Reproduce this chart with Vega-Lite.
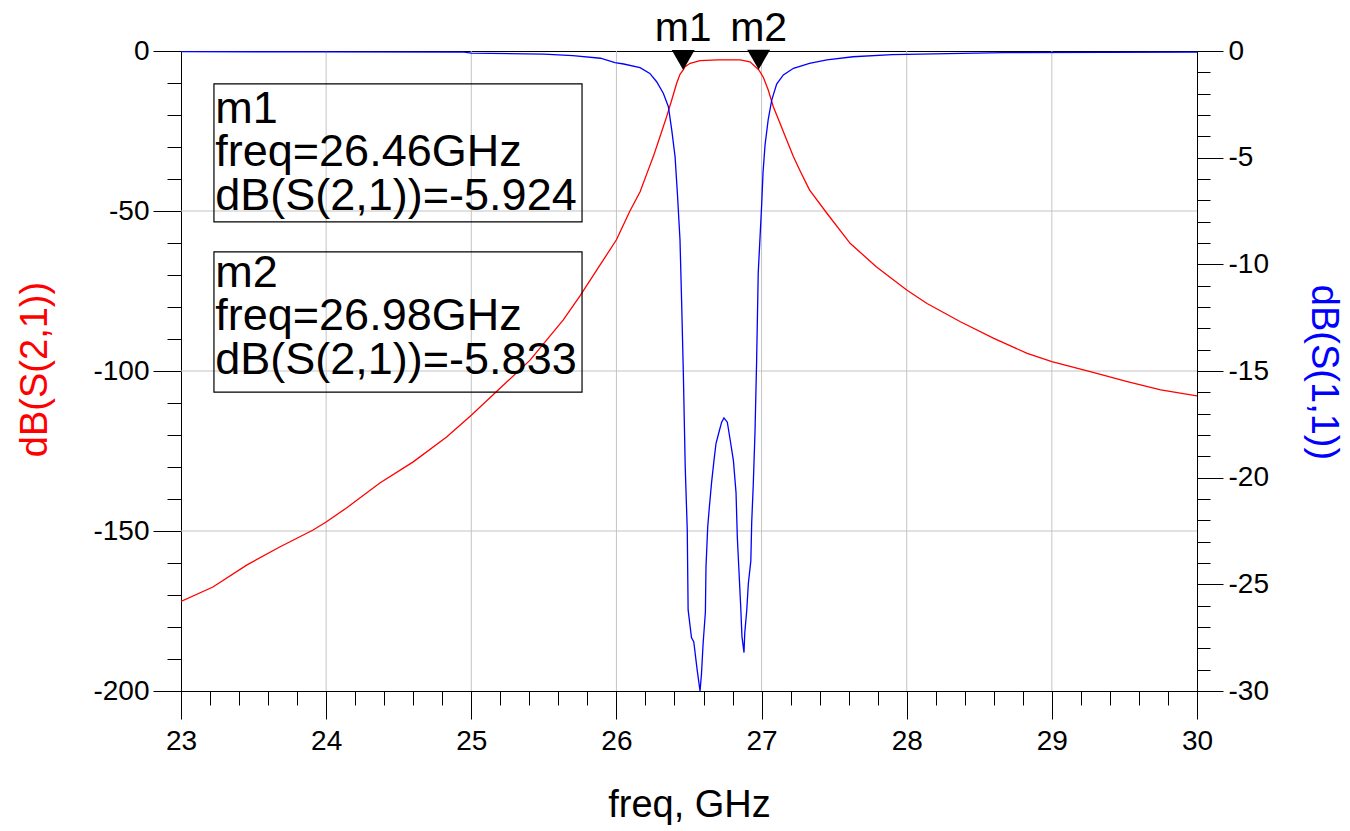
{
  "$schema": "https://vega.github.io/schema/vega-lite/v6.json",
  "width": 1016,
  "height": 640,
  "autosize": {"type": "none"},
  "padding": {"left": 181, "top": 51, "right": 153, "bottom": 140},
  "background": "white",
  "config": {
    "font": "Liberation Sans",
    "view": {"stroke": "black", "strokeWidth": 1},
    "text": {"font": "Liberation Sans"},
    "axis": {
      "domainColor": "black",
      "domainWidth": 1,
      "tickColor": "black",
      "tickWidth": 1,
      "labelFont": "Liberation Sans",
      "labelFontSize": 28,
      "labelColor": "black",
      "labelOverlap": false,
      "labelFlush": false,
      "titleFont": "Liberation Sans",
      "titleFontSize": 38,
      "titleFontWeight": "normal",
      "grid": false
    }
  },
  "datasets": {
    "s21": [
      {"freq": 23.0, "db": -172.0}, {"freq": 23.22, "db": -167.5}, {"freq": 23.455, "db": -160.6},
      {"freq": 23.68, "db": -155.0}, {"freq": 23.91, "db": -149.7}, {"freq": 24.0, "db": -147.2},
      {"freq": 24.14, "db": -142.8}, {"freq": 24.37, "db": -135.0}, {"freq": 24.6, "db": -128.4},
      {"freq": 24.83, "db": -120.6}, {"freq": 25.0, "db": -113.8}, {"freq": 25.2, "db": -105.3},
      {"freq": 25.405, "db": -96.6}, {"freq": 25.52, "db": -90.3}, {"freq": 25.634, "db": -84.0},
      {"freq": 25.749, "db": -76.5}, {"freq": 25.864, "db": -68.5}, {"freq": 26.0, "db": -59.0},
      {"freq": 26.093, "db": -50.0}, {"freq": 26.163, "db": -44.0}, {"freq": 26.209, "db": -38.4},
      {"freq": 26.254, "db": -33.0}, {"freq": 26.3, "db": -26.8}, {"freq": 26.346, "db": -20.5},
      {"freq": 26.381, "db": -15.3}, {"freq": 26.415, "db": -10.1}, {"freq": 26.438, "db": -7.3},
      {"freq": 26.46, "db": -5.924}, {"freq": 26.473, "db": -4.9}, {"freq": 26.508, "db": -3.85},
      {"freq": 26.576, "db": -3.0}, {"freq": 26.7, "db": -2.8}, {"freq": 26.852, "db": -2.8},
      {"freq": 26.92, "db": -3.4}, {"freq": 26.98, "db": -5.833}, {"freq": 27.012, "db": -8.2},
      {"freq": 27.046, "db": -12.2}, {"freq": 27.081, "db": -17.4}, {"freq": 27.127, "db": -22.6},
      {"freq": 27.173, "db": -27.8}, {"freq": 27.219, "db": -33.0}, {"freq": 27.265, "db": -37.4},
      {"freq": 27.33, "db": -43.4}, {"freq": 27.45, "db": -50.7}, {"freq": 27.61, "db": -60.1},
      {"freq": 27.79, "db": -67.4}, {"freq": 28.0, "db": -74.7}, {"freq": 28.14, "db": -78.9},
      {"freq": 28.37, "db": -84.6}, {"freq": 28.6, "db": -89.8}, {"freq": 28.83, "db": -94.5},
      {"freq": 29.0, "db": -97.1}, {"freq": 29.29, "db": -100.5}, {"freq": 29.52, "db": -103.3},
      {"freq": 29.75, "db": -105.9}, {"freq": 30.0, "db": -107.8}
    ],
    "s11": [
      {"freq": 23.0, "db": -0.03}, {"freq": 24.0, "db": -0.04}, {"freq": 24.95, "db": -0.05},
      {"freq": 25.0, "db": -0.1}, {"freq": 25.5, "db": -0.15}, {"freq": 25.7, "db": -0.22},
      {"freq": 25.89, "db": -0.34}, {"freq": 25.99, "db": -0.55}, {"freq": 26.05, "db": -0.61},
      {"freq": 26.163, "db": -0.78}, {"freq": 26.23, "db": -1.05}, {"freq": 26.277, "db": -1.44},
      {"freq": 26.323, "db": -1.98}, {"freq": 26.358, "db": -2.61}, {"freq": 26.381, "db": -3.7},
      {"freq": 26.404, "db": -4.95}, {"freq": 26.42, "db": -6.67}, {"freq": 26.438, "db": -8.86},
      {"freq": 26.45, "db": -11.98}, {"freq": 26.461, "db": -15.1}, {"freq": 26.474, "db": -19.5},
      {"freq": 26.488, "db": -22.45}, {"freq": 26.494, "db": -26.2}, {"freq": 26.517, "db": -27.5},
      {"freq": 26.533, "db": -27.7}, {"freq": 26.556, "db": -29.0}, {"freq": 26.576, "db": -30.0},
      {"freq": 26.586, "db": -29.2}, {"freq": 26.597, "db": -27.8}, {"freq": 26.613, "db": -26.3},
      {"freq": 26.617, "db": -24.2}, {"freq": 26.629, "db": -22.3}, {"freq": 26.64, "db": -21.4},
      {"freq": 26.656, "db": -20.2}, {"freq": 26.672, "db": -19.2}, {"freq": 26.686, "db": -18.4},
      {"freq": 26.709, "db": -17.8}, {"freq": 26.725, "db": -17.4}, {"freq": 26.741, "db": -17.2},
      {"freq": 26.764, "db": -17.4}, {"freq": 26.783, "db": -18.2}, {"freq": 26.806, "db": -19.2},
      {"freq": 26.824, "db": -20.7}, {"freq": 26.833, "db": -22.8}, {"freq": 26.843, "db": -24.2},
      {"freq": 26.856, "db": -26.0}, {"freq": 26.865, "db": -27.45}, {"freq": 26.879, "db": -28.2},
      {"freq": 26.884, "db": -27.3}, {"freq": 26.898, "db": -26.2}, {"freq": 26.909, "db": -24.95},
      {"freq": 26.926, "db": -23.9}, {"freq": 26.932, "db": -22.1}, {"freq": 26.943, "db": -20.3},
      {"freq": 26.955, "db": -17.8}, {"freq": 26.966, "db": -14.5}, {"freq": 26.977, "db": -10.4},
      {"freq": 27.0, "db": -7.3}, {"freq": 27.01, "db": -5.7}, {"freq": 27.024, "db": -4.4},
      {"freq": 27.046, "db": -3.2}, {"freq": 27.07, "db": -2.3}, {"freq": 27.104, "db": -1.55},
      {"freq": 27.15, "db": -1.12}, {"freq": 27.22, "db": -0.81}, {"freq": 27.33, "db": -0.58},
      {"freq": 27.45, "db": -0.42}, {"freq": 27.63, "db": -0.27}, {"freq": 27.9, "db": -0.17},
      {"freq": 28.67, "db": -0.08}, {"freq": 30.0, "db": -0.05}
    ],
    "gridx": [{"g": 24}, {"g": 25}, {"g": 26}, {"g": 27}, {"g": 28}, {"g": 29}],
    "gridy": [{"g": -50}, {"g": -100}, {"g": -150}],
    "boxes": [
      {"x1": 23.227, "x2": 25.763, "y1": -10.3, "y2": -53.4},
      {"x1": 23.227, "x2": 25.763, "y1": -62.8, "y2": -106.6}
    ],
    "boxtext": [
      {"freq": 23.236, "db": -22.5, "t": "m1"},
      {"freq": 23.236, "db": -35.8, "t": "freq=26.46GHz"},
      {"freq": 23.236, "db": -49.7, "t": "dB(S(2,1))=-5.924"},
      {"freq": 23.236, "db": -73.9, "t": "m2"},
      {"freq": 23.236, "db": -87.3, "t": "freq=26.98GHz"},
      {"freq": 23.236, "db": -100.8, "t": "dB(S(2,1))=-5.833"}
    ],
    "markers": [
      {"freq": 26.46, "db": -5.924, "t": "m1"},
      {"freq": 26.98, "db": -5.833, "t": "m2"}
    ]
  },
  "layer": [
    {
      "data": {"name": "gridx"},
      "mark": {"type": "rule", "color": "#c4c4c4", "strokeWidth": 1},
      "encoding": {
        "x": {
          "field": "g", "type": "quantitative",
          "scale": {"domain": [23, 30], "nice": false, "zero": false},
          "axis": {
            "orient": "bottom",
            "values": [23, 24, 25, 26, 27, 28, 29, 30],
            "labelExpr": "'' + datum.value",
            "tickSize": 28,
            "labelPadding": 8,
            "labelFlush": false,
            "labelOverlap": false,
            "title": "freq, GHz",
            "titleY": 114,
            "titleBaseline": "middle",
            "titleColor": "black"
          }
        }
      }
    },
    {
      "data": {"name": "gridy"},
      "mark": {"type": "rule", "color": "#c4c4c4", "strokeWidth": 1},
      "encoding": {
        "y": {"field": "g", "type": "quantitative", "axis": null, "scale": {"domain": [-200, 0], "nice": false, "zero": false}}
      }
    },
    {
      "data": {"name": "s21"},
      "mark": {"type": "line", "color": "#ff0000", "strokeWidth": 1.3, "clip": true},
      "encoding": {
        "x": {"field": "freq", "type": "quantitative", "axis": null},
        "y": {
          "field": "db", "type": "quantitative",
          "scale": {"domain": [-200, 0], "nice": false, "zero": false},
          "axis": {
            "orient": "left",
            "values": [0, -10, -20, -30, -40, -50, -60, -70, -80, -90, -100, -110, -120, -130, -140, -150, -160, -170, -180, -190, -200],
            "labelExpr": "datum.value % 50 === 0 ? '' + datum.value : ''",
            "tickSize": {"condition": {"test": "datum.value % 50 === 0", "value": 28}, "value": 14},
            "labelPadding": 4,
            "labelOverlap": false,
            "labelFlush": false,
            "title": "dB(S(2,1))",
            "titleColor": "#ff0000",
            "titleAngle": -90,
            "titleX": -146,
            "titleY": 318,
            "titleBaseline": "middle",
            "titleAlign": "center"
          }
        }
      }
    },
    {
      "data": {"name": "s11"},
      "mark": {"type": "line", "color": "#0000ff", "strokeWidth": 1.3, "clip": true},
      "encoding": {
        "x": {"field": "freq", "type": "quantitative", "axis": null},
        "y": {
          "field": "db", "type": "quantitative",
          "scale": {"domain": [-30, 0], "nice": false, "zero": false},
          "axis": {
            "orient": "right",
            "values": [0, -1, -2, -3, -4, -5, -6, -7, -8, -9, -10, -11, -12, -13, -14, -15, -16, -17, -18, -19, -20, -21, -22, -23, -24, -25, -26, -27, -28, -29, -30],
            "labelExpr": "datum.value % 5 === 0 ? '' + datum.value : ''",
            "tickSize": {"condition": {"test": "datum.value % 5 === 0", "value": 26}, "value": 13},
            "labelPadding": 5,
            "labelOverlap": false,
            "labelFlush": false,
            "title": "dB(S(1,1))",
            "titleColor": "#0000ff",
            "titleAngle": 90,
            "titleX": 125,
            "titleY": 321,
            "titleBaseline": "middle",
            "titleAlign": "center"
          }
        }
      }
    },
    {
      "data": {"name": "boxes"},
      "mark": {"type": "rect", "fill": "transparent", "stroke": "black", "strokeWidth": 1.2},
      "encoding": {
        "x": {
          "field": "x1", "type": "quantitative",
          "axis": {
            "orient": "bottom",
            "values": [23.2, 23.4, 23.6, 23.8, 24.2, 24.4, 24.6, 24.8, 25.2, 25.4, 25.6, 25.8, 26.2, 26.4, 26.6, 26.8, 27.2, 27.4, 27.6, 27.8, 28.2, 28.4, 28.6, 28.8, 29.2, 29.4, 29.6, 29.8],
            "labels": false,
            "domain": false,
            "tickSize": 14,
            "title": null
          }
        },
        "x2": {"field": "x2"},
        "y": {"field": "y1", "type": "quantitative", "axis": null, "scale": {"domain": [-200, 0], "nice": false, "zero": false}},
        "y2": {"field": "y2"}
      }
    },
    {
      "data": {"name": "boxtext"},
      "mark": {"type": "text", "align": "left", "baseline": "alphabetic", "fontSize": 45, "color": "black", "font": "Liberation Sans"},
      "encoding": {
        "x": {"field": "freq", "type": "quantitative", "axis": null},
        "y": {"field": "db", "type": "quantitative", "axis": null, "scale": {"domain": [-200, 0], "nice": false, "zero": false}},
        "text": {"field": "t"}
      }
    },
    {
      "data": {"name": "markers"},
      "mark": {"type": "point", "shape": "triangle-down", "size": 529, "filled": true, "color": "black", "opacity": 1, "yOffset": -10},
      "encoding": {
        "x": {"field": "freq", "type": "quantitative", "axis": null},
        "y": {"field": "db", "type": "quantitative", "axis": null, "scale": {"domain": [-200, 0], "nice": false, "zero": false}}
      }
    },
    {
      "data": {"name": "markers"},
      "mark": {"type": "text", "align": "center", "baseline": "alphabetic", "fontSize": 41, "color": "black", "dy": -29, "font": "Liberation Sans"},
      "encoding": {
        "x": {"field": "freq", "type": "quantitative", "axis": null},
        "y": {"field": "db", "type": "quantitative", "axis": null, "scale": {"domain": [-200, 0], "nice": false, "zero": false}},
        "text": {"field": "t"}
      }
    }
  ],
  "resolve": {"scale": {"y": "independent"}, "axis": {"x": "independent"}}
}
